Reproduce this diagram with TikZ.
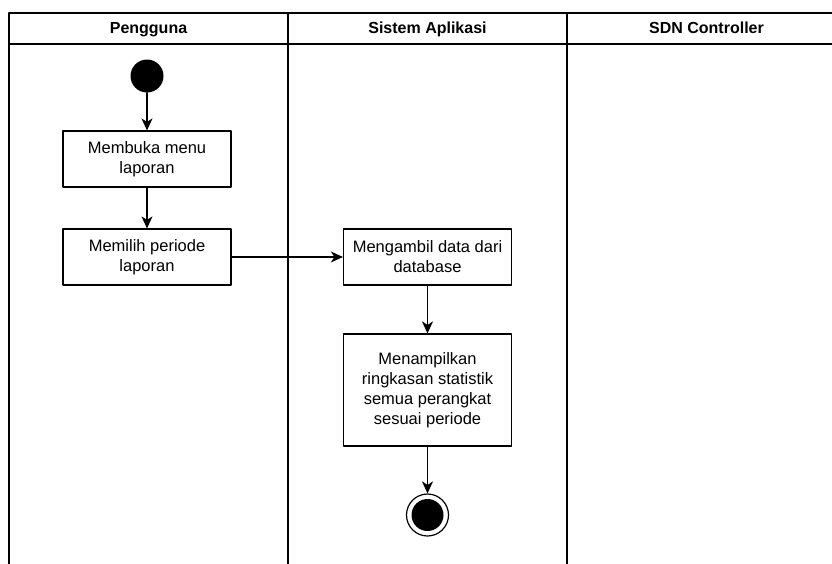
\documentclass[tikz,border=0pt]{standalone}
\usepackage{fontspec}
\setmainfont{Liberation Sans}
\usetikzlibrary{arrows.meta}
\begin{document}
\begin{tikzpicture}[x=1pt, y=-1pt, line join=round, line cap=round,
	font=\fontsize{16.5}{20}\selectfont,
	act/.style={draw, line width=1.2pt, minimum width=168pt, minimum height=56pt, align=center, inner sep=2pt},
	lanehead/.style={font=\fontsize{16}{20}\selectfont\bfseries, text height=12pt, text depth=3.5pt, inner sep=0pt},
	flow/.style={-{Stealth[length=12pt,width=11pt,inset=3.5pt]}, line width=1.2pt}]
	\useasboundingbox (0,0) rectangle (832,563);
	\clip (0,0) rectangle (832,563);
	\def\ytop{13}\def\yhead{44}\def\ybot{570}\def\xright{850}
	% lanes
	\draw[line width=1.2pt] (9,\ybot)--(9,\ytop)--(\xright,\ytop);
	\draw[line width=1.2pt] (9,\yhead)--(\xright,\yhead);
	\foreach \x in {288,567}\draw[line width=1.2pt] (\x,\ytop)--(\x,\ybot);
	\foreach \x/\t/\n in {148.5/Pengguna/user, 427.5/Sistem Aplikasi/sys, 706.5/SDN Controller/sdn}
		\node[lanehead] (\n) at (\x,29) {\t};
	% activities
	\node[circle, fill, minimum size=33pt, inner sep=0pt] (start) at (147,76) {};
	\node[act] (open) at (147,159) {Membuka menu\\laporan};
	\node[act] (pick) at (147,257) {Memilih periode\\laporan};
	\node[act] (fetch) at (427.5,257) {Mengambil data dari\\database};
	\node[act, minimum height=112pt] (show) at (427.5,390) {Menampilkan\\ringkasan statistik\\semua perangkat\\sesuai periode};
	\node[circle, draw, line width=1.2pt, minimum size=42pt, inner sep=0pt] (stop) at (427.5,515) {};
	\fill (stop.center) circle (16);
	% flows
	\draw[flow] (start)--(open);
	\draw[flow] (open)--(pick);
	\draw[flow] (pick)--(fetch);
	\draw[flow] (fetch)--(show);
	\draw[flow] (show)--(stop);
\end{tikzpicture}
\end{document}
